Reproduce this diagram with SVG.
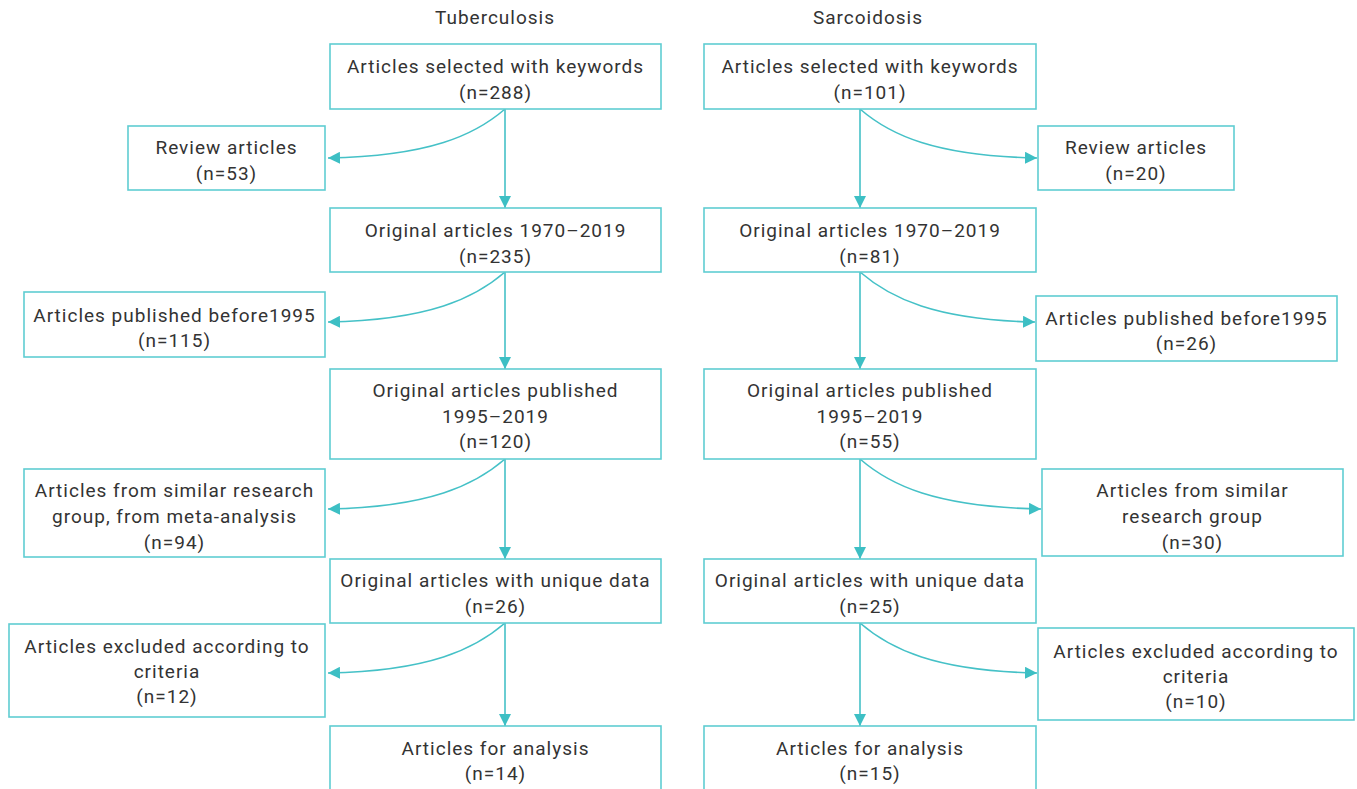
<svg xmlns="http://www.w3.org/2000/svg" width="1357" height="789" viewBox="0 0 1357 789">
<defs>
<style>
.box{fill:#ffffff;stroke:#5fcdd2;stroke-width:1.6}
.t{font-family:Roboto,"Liberation Sans",sans-serif;font-size:19px;letter-spacing:1px;fill:#333333;text-anchor:middle}
.c{fill:none;stroke:#45c1c7;stroke-width:1.6}
</style>
<marker id="ah" viewBox="0 0 12 12" refX="12" refY="6" markerWidth="12" markerHeight="12" markerUnits="userSpaceOnUse" orient="auto"><path d="M0,0 L12,6 L0,12 z" fill="#3dbfc4"/></marker>
</defs>
<rect width="1357" height="789" fill="#ffffff"/>
<g id="headers">
<text class="t" x="495" y="24">Tuberculosis</text>
<text class="t" x="868" y="24">Sarcoidosis</text>
</g>
<g id="connectors">
<path class="c" d="M505,109 L505,208" marker-end="url(#ah)"/>
<path class="c" d="M505,272 L505,369" marker-end="url(#ah)"/>
<path class="c" d="M505,459 L505,559" marker-end="url(#ah)"/>
<path class="c" d="M505,623 L505,726" marker-end="url(#ah)"/>
<path class="c" d="M860,109 L860,208" marker-end="url(#ah)"/>
<path class="c" d="M860,272 L860,369" marker-end="url(#ah)"/>
<path class="c" d="M860,459 L860,559" marker-end="url(#ah)"/>
<path class="c" d="M860,623 L860,726" marker-end="url(#ah)"/>
<path class="c" d="M505,109 C475,135 430,156 328,158" marker-end="url(#ah)"/>
<path class="c" d="M505,272 C475,298 430,320 328,322" marker-end="url(#ah)"/>
<path class="c" d="M505,459 C475,485 430,507 328,509" marker-end="url(#ah)"/>
<path class="c" d="M505,623 C475,649 430,671 328,673" marker-end="url(#ah)"/>
<path class="c" d="M860,109 C890,135 935,156 1037,158" marker-end="url(#ah)"/>
<path class="c" d="M860,272 C890,298 935,320 1035,322" marker-end="url(#ah)"/>
<path class="c" d="M860,459 C890,485 935,507 1041,509" marker-end="url(#ah)"/>
<path class="c" d="M860,623 C890,649 935,671 1037,673" marker-end="url(#ah)"/>
</g>
<g id="tb1"><rect class="box" x="330" y="44" width="331" height="65"/><text class="t" x="495.5" y="73">Articles selected with keywords</text><text class="t" x="495.5" y="99">(n=288)</text></g>
<g id="tb2"><rect class="box" x="330" y="208" width="331" height="64"/><text class="t" x="495.5" y="237">Original articles 1970–2019</text><text class="t" x="495.5" y="263">(n=235)</text></g>
<g id="tb3"><rect class="box" x="330" y="369" width="331" height="90"/><text class="t" x="495.5" y="397">Original articles published</text><text class="t" x="495.5" y="423">1995–2019</text><text class="t" x="495.5" y="448">(n=120)</text></g>
<g id="tb4"><rect class="box" x="330" y="559" width="331" height="64"/><text class="t" x="495.5" y="587">Original articles with unique data</text><text class="t" x="495.5" y="613">(n=26)</text></g>
<g id="tb5"><rect class="box" x="330" y="726" width="331" height="80"/><text class="t" x="495.5" y="755">Articles for analysis</text><text class="t" x="495.5" y="780">(n=14)</text></g>
<g id="tbs1"><rect class="box" x="128" y="126" width="197" height="64"/><text class="t" x="226.5" y="154">Review articles</text><text class="t" x="226.5" y="180">(n=53)</text></g>
<g id="tbs2"><rect class="box" x="24" y="292" width="301" height="65"/><text class="t" x="174.5" y="322">Articles published before1995</text><text class="t" x="174.5" y="347">(n=115)</text></g>
<g id="tbs3"><rect class="box" x="24" y="469" width="301" height="88"/><text class="t" x="174.5" y="497">Articles from similar research</text><text class="t" x="174.5" y="523">group, from meta-analysis</text><text class="t" x="174.5" y="549">(n=94)</text></g>
<g id="tbs4"><rect class="box" x="9" y="624" width="316" height="93"/><text class="t" x="167" y="653">Articles excluded according to</text><text class="t" x="167" y="678">criteria</text><text class="t" x="167" y="703">(n=12)</text></g>
<g id="sa1"><rect class="box" x="704" y="44" width="332" height="65"/><text class="t" x="870" y="73">Articles selected with keywords</text><text class="t" x="870" y="99">(n=101)</text></g>
<g id="sa2"><rect class="box" x="704" y="208" width="332" height="64"/><text class="t" x="870" y="237">Original articles 1970–2019</text><text class="t" x="870" y="263">(n=81)</text></g>
<g id="sa3"><rect class="box" x="704" y="369" width="332" height="90"/><text class="t" x="870" y="397">Original articles published</text><text class="t" x="870" y="423">1995–2019</text><text class="t" x="870" y="448">(n=55)</text></g>
<g id="sa4"><rect class="box" x="704" y="559" width="332" height="64"/><text class="t" x="870" y="587">Original articles with unique data</text><text class="t" x="870" y="613">(n=25)</text></g>
<g id="sa5"><rect class="box" x="704" y="726" width="332" height="80"/><text class="t" x="870" y="755">Articles for analysis</text><text class="t" x="870" y="780">(n=15)</text></g>
<g id="sas1"><rect class="box" x="1038" y="126" width="196" height="64"/><text class="t" x="1136" y="154">Review articles</text><text class="t" x="1136" y="180">(n=20)</text></g>
<g id="sas2"><rect class="box" x="1036" y="296" width="301" height="65"/><text class="t" x="1186.5" y="325">Articles published before1995</text><text class="t" x="1186.5" y="350">(n=26)</text></g>
<g id="sas3"><rect class="box" x="1042" y="469" width="301" height="87"/><text class="t" x="1192.5" y="497">Articles from similar</text><text class="t" x="1192.5" y="523">research group</text><text class="t" x="1192.5" y="549">(n=30)</text></g>
<g id="sas4"><rect class="box" x="1038" y="628" width="316" height="92"/><text class="t" x="1196" y="658">Articles excluded according to</text><text class="t" x="1196" y="683">criteria</text><text class="t" x="1196" y="708">(n=10)</text></g>
</svg>
